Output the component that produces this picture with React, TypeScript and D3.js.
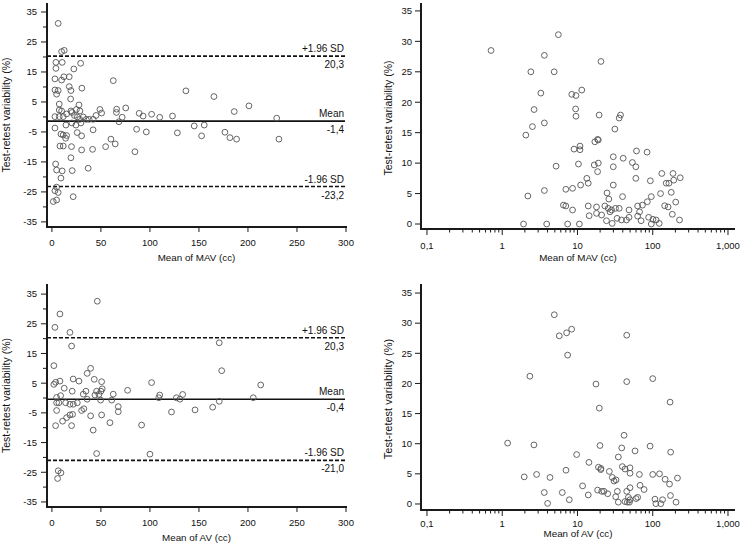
import React from "react";
import * as d3 from "d3";

// ---------- data ----------
const mavBA: number[][] = [
  [6.4, 31.2], [9.9, 21.8], [12.6, 22.2], [4.1, 18.2], [10.5, 18.2], [4.1, 16.2], [29.3, 17.9], [22.4, 16],
  [3.1, 12.7], [9.9, 12.3], [12.2, 13.4], [17.7, 13.4], [62.6, 12.1], [3.1, 9], [6.4, 8.8], [4.8, 7.6],
  [17.7, 10.1], [19.4, 8.8], [30.6, 9.6], [19.1, 6], [7.5, 4.3], [7.5, 2.3], [9.9, 2], [19.4, 2], [27.6, 4],
  [25, 2.5], [28.6, 2], [49, 2.5], [50.7, 1.3], [3.1, 0.1], [7.5, 0.1], [11.6, 0.1], [15, 1], [20.5, 1.5],
  [23, 0.5], [26, 0], [28.5, -0.8], [32, 0], [35, -0.8], [38, -0.8], [42, -0.8], [45, 0.5], [66, 2.6],
  [65.8, 1.5], [75.3, 3], [68.4, -1.6], [71.7, -0.1], [89, 1.2], [93, 0.3], [101.7, 0.9], [110, -0.1],
  [123, 0.3], [14.3, -2.7], [20.4, -2], [24.5, -2.7], [29.6, -2], [3.1, -3.7], [42, -4.3], [86.4, -4.1],
  [96.3, -5], [128, -5.3], [136.7, 8.7], [165.3, 6.8], [186, 1.8], [201, 3.7], [229.3, -0.4], [145.2, -3],
  [155.4, -2.7], [152.7, -6.3], [176.5, -5.1], [181.6, -6.9], [188.4, -7.4], [231.6, -7.4], [9.2, -5.7],
  [11.5, -6], [15, -6.2], [14, -7.1], [25.8, -5.2], [30.3, -6.3], [8.2, -9.7], [11.6, -9.7], [20, -9.9],
  [30.3, -11], [41.5, -10.8], [54.8, -9.9], [64.6, -9], [60.2, -7.4], [84.7, -11.6], [19.4, -13.6],
  [3.8, -15.7], [4.8, -17.7], [10.5, -18], [20.7, -17.9], [37, -17.1], [9.2, -20.4], [4.8, -23.4],
  [3.1, -24.6], [6.4, -25.2], [21.7, -26.6], [1.4, -28.2], [4.8, -27.7],
];

const avBA: number[][] = [
  [46.3, 32.6], [8.2, 28.3], [3.1, 23.8], [18.4, 22.1], [20.1, 17.5], [2, 10.9], [39.5, 10], [36, 8.3],
  [43.2, 6.3], [50.7, 5.5], [21.7, 6.4], [27.6, 5.7], [3.8, 5.3], [2, 4.6], [8.2, 5.7], [12.6, 3.3],
  [101.7, 5.2], [77.2, 2.6], [51.3, 3.1], [50, 2.3], [20.7, 2.3], [34.7, 2.3], [45.6, 2.3], [43.9, 1],
  [48, 1.2], [62.6, 1.3], [4.8, 0.2], [8.9, 0.8], [32, 1.3], [36, -0.4], [110, 1], [109, 0.1], [127, 0.1],
  [49.7, -0.7], [61, -0.7], [4.8, -1.6], [7.1, -1.6], [14, -1.6], [18.4, -2.1], [21.8, -2.1], [25.9, -1.6],
  [67.7, -2.9], [67.7, -4.6], [4.8, -4.2], [122, -4.7], [30.3, -4.2], [32.6, -3.6], [170.7, 18.6],
  [173.2, 9.2], [213, 4.4], [133.4, 1.2], [130.6, -0.4], [205.4, 0.1], [170.7, -1.1], [146, -4], [164, -3.1],
  [39.5, -6], [50.7, -5.7], [59.2, -8.3], [3.8, -9.3], [10.9, -7.8], [15, -6.6], [18.4, -5.7], [21.1, -5.5],
  [20.1, -9.3], [42.1, -10.8], [91.5, -9.1], [45.6, -18.7], [100, -18.9], [6.4, -24.5], [9.2, -25.2],
  [5.8, -27.1],
];

const mavAbs: number[][] = [
  [0.71, 28.5], [3.63, 27.7], [2.4, 25], [4.9, 25], [3.26, 21.5], [2.65, 18.8], [2.52, 16], [3.63, 16.6],
  [2.06, 14.6], [5.57, 31.1], [20.5, 26.7], [8.4, 21.3], [9.55, 21.1], [11.4, 22], [9.45, 18.9], [9.55, 17.7],
  [19.4, 17.9], [37.3, 17.9], [35.8, 17.4], [31.4, 15.6], [18.5, 13.9], [5.2, 9.5], [3.63, 5.5], [2.19, 4.6],
  [1.92, 0], [3.9, 0], [9.0, 12.3], [10.8, 12.8], [10.8, 12.2], [17.0, 13.5], [18.9, 13.8], [10.3, 9.85],
  [16.7, 9.7], [18.9, 10], [18.5, 8.6], [29.9, 11.05], [29.9, 9.4], [40.5, 10.8], [60.8, 12], [84.1, 11.8],
  [53.6, 10.1], [59.6, 9.4], [59.6, 7.5], [93, 7.1], [13.3, 7.5], [13.9, 6.7], [11, 6.4], [7.0, 5.7],
  [8.6, 5.86], [29.9, 6.4], [24.7, 5.1], [26.1, 4.1], [39.7, 4.5], [6.5, 3.1], [7.0, 2.96], [8.6, 2.3],
  [13.9, 2.96], [14.3, 1.36], [17.9, 2.8], [17.9, 1.75], [20.9, 1.48], [23.1, 2.96], [25.6, 2.57], [27, 2.0],
  [28.4, 2.3], [32, 2.57], [35.8, 2.57], [24.3, 0.54], [28.9, 0.1], [33.6, 0.93], [38.4, 0.66], [44.8, 0.66],
  [48.4, 1.1], [48.4, 2.3], [63, 1.3], [66.8, 2.0], [63, 2.96], [73, 3.1], [84.8, 3.66], [95.7, 4.5],
  [70, 0.54], [88.2, 1.1], [100.7, 0.77], [111, 0.66], [122, 0.1], [95.7, 0], [7.4, 0], [10.6, 0],
  [127, 5.0], [132, 8.3], [151, 6.7], [164, 6.7], [186, 8.3], [190, 7.2], [176, 5.2], [232, 7.6], [144, 3.0],
  [160, 2.8], [202, 3.6], [182, 1.6], [227, 0.66],
];

const avAbs: number[][] = [
  [4.92, 31.4], [5.73, 27.9], [7.17, 28.4], [8.36, 29.0], [7.4, 24.7], [45.1, 28.0], [2.33, 21.2],
  [17.6, 19.9], [45.1, 20.3], [100, 20.8], [19.5, 15.9], [170, 16.9], [1.18, 10.1], [2.64, 9.8], [19.9, 9.7],
  [41.6, 11.4], [38.7, 9.3], [58.2, 8.8], [92.2, 9.6], [173, 8.6], [9.75, 8.2], [34.9, 7.8], [14.2, 6.9],
  [39.5, 6.2], [42.8, 5.8], [19.0, 6.1], [20.5, 5.9], [20.4, 5.7], [7.03, 5.6], [26.5, 5.4], [49.9, 6.0],
  [49.9, 5.1], [66.5, 4.9], [100, 4.9], [123, 5.0], [146, 4.1], [213, 4.3], [167, 3.3], [1.96, 4.5],
  [2.86, 4.9], [4.31, 4.4], [29, 4.4], [30.6, 3.8], [32.5, 4.0], [11.7, 3.0], [49.9, 2.7], [67.8, 3.1],
  [76.7, 2.4], [18.5, 2.3], [21, 2.1], [22.5, 2.1], [25.2, 1.7], [33.9, 2.1], [45.1, 2.1], [3.62, 1.9],
  [6.28, 1.9], [13.9, 1.5], [32.2, 1.2], [47.5, 1.1], [49.9, 0.7], [60, 0.9], [63.1, 1.1], [107, 0.8],
  [135, 0.7], [172, 1.4], [7.78, 0.7], [4.01, 0.1], [34.9, 0.3], [42.8, 0.4], [46, 0.3], [49, 0.3],
  [110, 0.05], [128, 0.05], [204, 0.3],
];

const mavLimits = [20.3, -1.4, -23.2];
const avLimits = [20.3, -0.4, -21.0];
const limitNames = ["+1.96 SD", "Mean", "-1.96 SD"];
const mavLimitText = ["20,3", "-1,4", "-23,2"];
const avLimitText = ["20,3", "-0,4", "-21,0"];

const baMajorTicks = [35, 25, 15, 5, -5, -15, -25, -35];
const baMinorTicks = [30, 20, 10, 0, -10, -20, -30];
const baXTicks = [0, 50, 100, 150, 200, 250, 300];
const absYTicks = [0, 5, 10, 15, 20, 25, 30, 35];
const logMajorTicks = [0.1, 1, 10, 100, 1000];
const logTickLabels = ["0,1", "1", "10", "100", "1,000"];

const yTitle = "Test-retest variability (%)";
const xTitleMAV = "Mean of MAV (cc)";
const xTitleAV = "Mean of AV (cc)";

// ---------- styling ----------
const FONT = "'Liberation Sans', Arial, sans-serif";
const AXIS = "#1a1a1a";
const PT = "#555";
const TXT = "#111";
const TICK_FS = 9.5;
const XT_FS = 9.8;
const YT_FS = 10.5;

type BAProps = {
  data: number[][];
  limits: number[];
  limitText: string[];
  xTitle: string;
  yDomain: [number, number];
  yRange: [number, number];
  titleY: number;
};

function BAPanel({ data, limits, limitText, xTitle, yDomain, yRange, titleY }: BAProps) {
  const x = d3.scaleLinear().domain([-5, 300]).range([47, 346]);
  const y = d3.scaleLinear().domain(yDomain).range(yRange);
  const x0 = x.range()[0];
  const yb = yRange[0];
  const xEnd = 345;
  return (
    <g>
      {limits.map((v, i) => (
        <g key={"l" + i}>
          <line
            x1={x0}
            x2={xEnd}
            y1={y(v)}
            y2={y(v)}
            stroke="#111"
            strokeWidth={1.6}
            strokeDasharray={i === 1 ? undefined : "4,2"}
          />
          <text x={xEnd - 1} y={y(v) - 4} textAnchor="end" fontSize={10} fontFamily={FONT} fill={TXT}>
            {limitNames[i]}
          </text>
          <text x={xEnd - 1} y={y(v) + 12} textAnchor="end" fontSize={10} fontFamily={FONT} fill={TXT}>
            {limitText[i]}
          </text>
        </g>
      ))}
      {data.map((d, i) => (
        <circle key={i} cx={x(d[0])} cy={y(d[1])} r={2.9} fill="none" stroke={PT} strokeWidth={0.9} />
      ))}
      <line x1={x0} x2={x0} y1={yRange[1]} y2={yb} stroke={AXIS} strokeWidth={2} />
      <line x1={x0 - 1} x2={x(300) + 1} y1={yb} y2={yb} stroke={AXIS} strokeWidth={2} />
      {baMajorTicks.map((t) => (
        <g key={"ym" + t}>
          <line x1={x0 - 6} x2={x0} y1={y(t)} y2={y(t)} stroke={AXIS} strokeWidth={1} />
          <text x={x0 - 10} y={y(t)} dy="0.35em" textAnchor="end" fontSize={TICK_FS} fontFamily={FONT} fill={TXT}>
            {t}
          </text>
        </g>
      ))}
      {baMinorTicks.map((t) => (
        <line key={"yn" + t} x1={x0 - 4} x2={x0} y1={y(t)} y2={y(t)} stroke={AXIS} strokeWidth={1} />
      ))}
      {baXTicks.map((t) => (
        <g key={"x" + t}>
          <line x1={x(t)} x2={x(t)} y1={yb} y2={yb + 5} stroke={AXIS} strokeWidth={1} />
          <text x={x(t)} y={yb + 19} textAnchor="middle" fontSize={TICK_FS} fontFamily={FONT} fill={TXT}>
            {t}
          </text>
        </g>
      ))}
      <text x={(x0 + 346) / 2} y={titleY} textAnchor="middle" fontSize={XT_FS} fontFamily={FONT} fill={TXT}>
        {xTitle}
      </text>
      <text
        transform={`translate(9.5,${(yRange[0] + yRange[1]) / 2}) rotate(-90)`}
        textAnchor="middle"
        fontSize={YT_FS}
        fontFamily={FONT}
        fill={TXT}
      >
        {yTitle}
      </text>
    </g>
  );
}

type AbsProps = {
  data: number[][];
  xTitle: string;
  yDomain: [number, number];
  yRange: [number, number];
  labelY: number;
  titleY: number;
  yTitleFs: number;
};

function AbsPanel({ data, xTitle, yDomain, yRange, labelY, titleY, yTitleFs }: AbsProps) {
  const x = d3.scaleLog().domain([0.0833, 1239]).range([421, 735]);
  const y = d3.scaleLinear().domain(yDomain).range(yRange);
  const x0 = 421;
  const yb = yRange[0];
  const minor: number[] = [];
  logMajorTicks.slice(0, 4).forEach((m) => {
    for (let k = 2; k <= 9; k++) minor.push(m * k);
  });
  return (
    <g>
      {data.map((d, i) => (
        <circle key={i} cx={x(d[0])} cy={y(d[1])} r={2.9} fill="none" stroke={PT} strokeWidth={0.9} />
      ))}
      <line x1={x0} x2={x0} y1={yRange[1]} y2={yb} stroke={AXIS} strokeWidth={2} />
      <line x1={x0 - 1} x2={735} y1={yb} y2={yb} stroke={AXIS} strokeWidth={2} />
      {absYTicks.map((t) => (
        <g key={"y" + t}>
          <line x1={x0 - 6} x2={x0} y1={y(t)} y2={y(t)} stroke={AXIS} strokeWidth={1} />
          <text x={x0 - 9} y={y(t)} dy="0.35em" textAnchor="end" fontSize={TICK_FS} fontFamily={FONT} fill={TXT}>
            {t}
          </text>
        </g>
      ))}
      {logMajorTicks.map((t, i) => (
        <g key={"x" + t}>
          <line x1={x(t)} x2={x(t)} y1={yb} y2={yb + 6} stroke={AXIS} strokeWidth={1} />
          <text x={x(t)} y={labelY} textAnchor="middle" fontSize={TICK_FS} fontFamily={FONT} fill={TXT}>
            {logTickLabels[i]}
          </text>
        </g>
      ))}
      {minor.map((t) => (
        <line key={"m" + t} x1={x(t)} x2={x(t)} y1={yb} y2={yb + 3.5} stroke={AXIS} strokeWidth={1} />
      ))}
      <text x={578} y={titleY} textAnchor="middle" fontSize={XT_FS} fontFamily={FONT} fill={TXT}>
        {xTitle}
      </text>
      <text
        transform={`translate(391.5,${(yRange[0] + yRange[1]) / 2 + 2}) rotate(-90)`}
        textAnchor="middle"
        fontSize={yTitleFs}
        fontFamily={FONT}
        fill={TXT}
      >
        {yTitle}
      </text>
    </g>
  );
}

export default function App() {
  return (
    <svg width={740} height={545} style={{ position: "absolute", left: 0, top: 0, background: "#fff" }}>
      <rect width={740} height={545} fill="#fff" />
      <BAPanel
        data={mavBA}
        limits={mavLimits}
        limitText={mavLimitText}
        xTitle={xTitleMAV}
        yDomain={[-36.7, 38]}
        yRange={[227, 3]}
        titleY={261}
      />
      <AbsPanel
        data={mavAbs}
        xTitle={xTitleMAV}
        yDomain={[-0.82, 36.3]}
        yRange={[229, 3]}
        labelY={249}
        titleY={261}
        yTitleFs={10.5}
      />
      <BAPanel
        data={avBA}
        limits={avLimits}
        limitText={avLimitText}
        xTitle={xTitleAV}
        yDomain={[-36.7, 38.4]}
        yRange={[507, 284]}
        titleY={541}
      />
      <AbsPanel
        data={avAbs}
        xTitle={xTitleAV}
        yDomain={[-1, 36.5]}
        yRange={[510, 284]}
        labelY={527}
        titleY={537}
        yTitleFs={11}
      />
    </svg>
  );
}
